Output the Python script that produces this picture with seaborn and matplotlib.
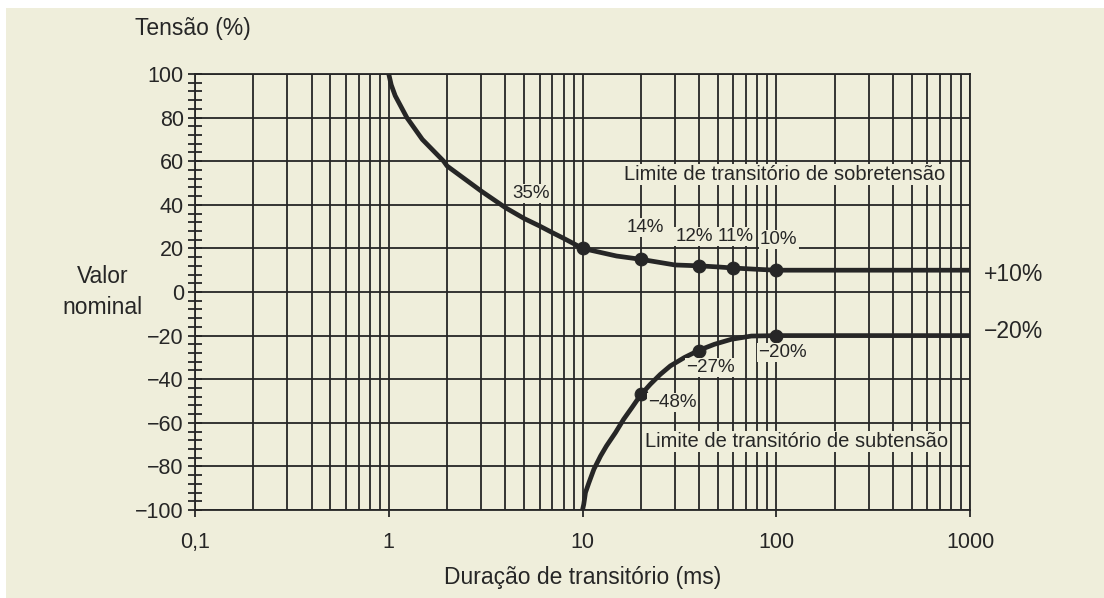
import numpy as np
import pandas as pd
import matplotlib
matplotlib.use("Agg")
import matplotlib.pyplot as plt
from matplotlib.ticker import FixedLocator, MultipleLocator, NullFormatter
from matplotlib.patches import Rectangle
import seaborn as sns

# curva de sobretensao
x_sobre = [1, 1.03, 1.08, 1.24, 1.49, 1.92, 2, 3, 4, 5, 6, 7, 8, 9, 10,
           15, 20, 30, 40, 50, 60, 80, 100, 1000]
y_sobre = [100, 95, 90, 80, 70, 60, 57.8, 46.3, 38.7, 33.7, 30.3, 27.2, 24.6, 22.2, 20,
           16.5, 15, 12.4, 12, 11.5, 11, 10.4, 10, 10]
# curva de subtensao
x_sub = [10, 10.15, 10.36, 10.8, 11.45, 12.4, 13.3, 14.8, 16.3, 18.0, 19.9, 22.4,
         25.2, 28.4, 33.5, 40, 47.9, 58.6, 74.4, 100, 1000]
y_sub = [-100, -97.4, -92, -87.4, -81.3, -75.2, -70.6, -64.5, -58.4, -53, -47.4, -42.3,
         -37.8, -33.9, -30.1, -26.7, -24, -21.7, -20.2, -20, -20]
# pontos marcados
pts_sobre_x = [10, 20, 40, 60, 100]
pts_sobre_y = [20, 15, 12, 11, 10]
pts_sub_x = [20, 40, 100]
pts_sub_y = [-47, -27, -20]
# rotulos
lab_sobre = ["35%", "14%", "12%", "11%", "10%"]
lab_sobre_pos = [(5.4, 45.3), (21, 29.5), (37.6, 25.5), (61.5, 25.5), (103, 24.1)]
lab_sub = ["\u221248%", "\u221227%", "\u221220%"]
lab_sub_pos = [(29, -50.7), (45.9, -34.7), (108, -27.8)]
xticks = [0.1, 1, 10, 100, 1000]
xticklabels = ["0,1", "1", "10", "100", "1000"]

bg = "#efeedb"
ink = "#262626"

sns.set_style("ticks")
plt.rcParams["font.family"] = ["Liberation Sans", "DejaVu Sans"]
plt.rcParams["axes.unicode_minus"] = True

fig = plt.figure(figsize=(11.04, 5.98), dpi=100, facecolor=bg)
ax = fig.add_axes([195/1104, 1-510/598, 775/1104, 436/598])
ax.set_facecolor(bg)

df_sobre = pd.DataFrame({"x": x_sobre, "y": y_sobre})
df_sub = pd.DataFrame({"x": x_sub, "y": y_sub})
sns.lineplot(data=df_sobre, x="x", y="y", ax=ax, color=ink, lw=3.4, sort=False,
             estimator=None, zorder=4, solid_capstyle="butt")
sns.lineplot(data=df_sub, x="x", y="y", ax=ax, color=ink, lw=3.4, sort=False,
             estimator=None, zorder=4, solid_capstyle="butt")
sns.scatterplot(x=pts_sobre_x + pts_sub_x, y=pts_sobre_y + pts_sub_y, ax=ax,
                color=ink, s=85, edgecolor=ink, zorder=5)

ax.set_xscale("log")
ax.set_xlim(0.1, 1000)
ax.set_ylim(-100, 100)

ax.xaxis.set_major_locator(FixedLocator(xticks))
ax.set_xticklabels(xticklabels)
ax.xaxis.set_minor_locator(FixedLocator(
    [m * 10.0**e for e in range(-1, 3) for m in range(2, 10)]))
ax.xaxis.set_minor_formatter(NullFormatter())
ax.yaxis.set_major_locator(MultipleLocator(20))
ax.yaxis.set_minor_locator(MultipleLocator(4))

ax.grid(True, which="major", color=ink, lw=1.3)
ax.grid(True, which="minor", axis="x", color=ink, lw=1.3)
ax.set_axisbelow(True)

ax.tick_params(axis="x", which="major", direction="out", length=5, width=1.3,
               color=ink, labelcolor=ink, labelsize=15.5, pad=11)
ax.tick_params(axis="x", which="minor", length=0)
ax.tick_params(axis="y", which="both", direction="inout", length=10, width=1.3,
               color=ink, labelcolor=ink, labelsize=15.5, pad=3)
for s in ax.spines.values():
    s.set_color(ink)
    s.set_linewidth(1.3)

ax.set_xlabel("Duração de transitório (ms)", fontsize=16.5, color=ink, labelpad=9)
ax.set_ylabel("")

box = dict(facecolor=bg, edgecolor="none", pad=0.8)
for t, (xx, yy) in zip(lab_sobre, lab_sobre_pos):
    ax.text(xx, yy, t, ha="center", va="center", fontsize=13.5, color=ink,
            bbox=box, zorder=6)
for t, (xx, yy) in zip(lab_sub, lab_sub_pos):
    ax.text(xx, yy, t, ha="center", va="center", fontsize=13.5, color=ink,
            bbox=box, zorder=6)

ax.text(16.3, 54, "Limite de transitório de sobretensão", ha="left", va="center",
        fontsize=14.5, color=ink, bbox=box, zorder=6)
ax.text(21, -68.5, "Limite de transitório de subtensão", ha="left", va="center",
        fontsize=14.5, color=ink, bbox=box, zorder=6)

ax.annotate("+10%", xy=(1000, 7.8), xytext=(10, 0), textcoords="offset points",
            ha="left", va="center", fontsize=16.5, color=ink, annotation_clip=False)
ax.annotate("\u221220%", xy=(1000, -18.2), xytext=(10, 0), textcoords="offset points",
            ha="left", va="center", fontsize=16.5, color=ink, annotation_clip=False)

fig.text(135/1104, 1-28/598, "Tensão (%)", ha="left", va="center",
         fontsize=16.5, color=ink)
fig.text(103/1104, 1-292/598, "Valor\nnominal", ha="center", va="center",
         fontsize=16.5, color=ink, linespacing=1.45)

# bordas brancas do scan
fig.add_artist(Rectangle((0, 1-8/598), 1, 8/598, transform=fig.transFigure,
                         facecolor="white", edgecolor="none", zorder=10))
fig.add_artist(Rectangle((0, 0), 6/1104, 1, transform=fig.transFigure,
                         facecolor="white", edgecolor="none", zorder=10))

fig.savefig("out.png", dpi=100, facecolor=bg)
